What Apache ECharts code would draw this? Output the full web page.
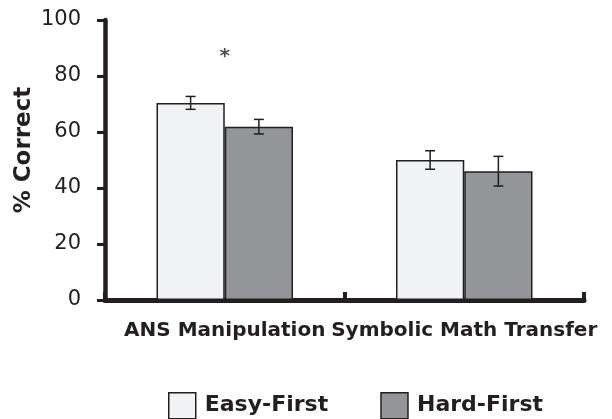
<!DOCTYPE html>
<html>
<head>
<meta charset="utf-8">
<script src="https://cdn.jsdelivr.net/npm/echarts@6/dist/echarts.min.js"></script>
<style>html,body{margin:0;padding:0;background:#fff}#c{width:612px;height:419px}</style>
</head>
<body>
<div id="c"></div>
<script>
const categories = ['ANS Manipulation', 'Symbolic Math Transfer'];
const easyFirst = [70.4, 50.0];
const hardFirst = [61.9, 46.0];
const easyErr = [2.3, 3.3];
const hardErr = [2.6, 5.3];
const yTicks = [0, 20, 40, 60, 80, 100];
const sigMarks = [['ANS Manipulation', 87, '*']];

const INK = '#231f20';
const CAT_GAP = 0.43;
const FONT = 'DejaVu Sans';

function errSeries(name, vals, errs, side) {
  return {
    type: 'custom',
    name: name + ' err',
    z: 5,
    data: vals.map((v, i) => [i, v, errs[i]]),
    renderItem: function (params, api) {
      const band = api.size([1, 0])[0];
      const barW = band * (1 - CAT_GAP) / 2;
      const c = api.coord([api.value(0), api.value(1)]);
      const x = c[0] + side * barW / 2;
      const hi = api.coord([api.value(0), api.value(1) + api.value(2)])[1];
      const lo = api.coord([api.value(0), api.value(1) - api.value(2)])[1];
      const cap = 5;
      const st = { stroke: INK, lineWidth: 1.5 };
      return {
        type: 'group',
        children: [
          { type: 'line', shape: { x1: x, y1: hi, x2: x, y2: lo }, style: st },
          { type: 'line', shape: { x1: x - cap, y1: hi, x2: x + cap, y2: hi }, style: st },
          { type: 'line', shape: { x1: x - cap, y1: lo, x2: x + cap, y2: lo }, style: st }
        ]
      };
    }
  };
}

const chart = echarts.init(document.getElementById('c'), null, { renderer: 'canvas' });
chart.setOption({
  animation: false,
  backgroundColor: '#ffffff',
  textStyle: { fontFamily: FONT, color: INK },
  grid: { left: 105, right: 28, top: 20, bottom: 119, containLabel: false },
  legend: {
    data: ['Easy-First', 'Hard-First'],
    left: 163, top: 387,
    itemWidth: 27, itemHeight: 26, itemGap: 52,
    icon: 'rect',
    itemStyle: { borderColor: INK, borderWidth: 1.5 },
    textStyle: { fontFamily: FONT, fontWeight: 'bold', fontSize: 22, color: INK, padding: [0, 0, 0, 4] }
  },
  xAxis: {
    type: 'category',
    data: categories,
    boundaryGap: true,
    axisLine: { lineStyle: { color: INK, width: 5 } },
    axisTick: { show: true, inside: true, length: 8, interval: 0, lineStyle: { color: INK, width: 4 } },
    axisLabel: { interval: 0, margin: 21, fontFamily: FONT, fontWeight: 'bold', fontSize: 20, color: INK }
  },
  yAxis: {
    type: 'value',
    min: yTicks[0], max: yTicks[yTicks.length - 1], interval: 20,
    name: '% Correct',
    nameLocation: 'middle',
    nameGap: 69,
    nameMoveOverlap: false,
    nameRotate: 90,
    nameTextStyle: { fontFamily: FONT, fontWeight: 'bold', fontSize: 23, color: INK, padding: [0, 0, 0, 20] },
    axisLine: { show: true, lineStyle: { color: INK, width: 4.5 } },
    axisTick: { show: true, length: 8, lineStyle: { color: INK, width: 3 } },
    splitLine: { show: false },
    axisLabel: { margin: 24, fontFamily: FONT, fontSize: 21, color: INK }
  },
  series: [
    {
      name: 'Easy-First', type: 'bar', data: easyFirst,
      barGap: '0%', barCategoryGap: (CAT_GAP * 100) + '%',
      itemStyle: { color: '#f1f2f3', borderColor: INK, borderWidth: 1.5 }
    },
    {
      name: 'Hard-First', type: 'bar', data: hardFirst,
      barGap: '0%', barCategoryGap: (CAT_GAP * 100) + '%',
      itemStyle: { color: '#939598', borderColor: INK, borderWidth: 1.5 }
    },
    errSeries('Easy-First', easyFirst, easyErr, -1),
    errSeries('Hard-First', hardFirst, hardErr, 1),
    {
      type: 'scatter', name: 'sig',
      data: sigMarks.map(d => ({ value: [d[0], d[1]], label: { formatter: d[2] } })),
      symbolSize: 0,
      label: { show: true, position: 'inside', fontFamily: FONT, fontWeight: 'bold', fontSize: 20, color: INK }
    }
  ]
});
</script>
</body>
</html>
